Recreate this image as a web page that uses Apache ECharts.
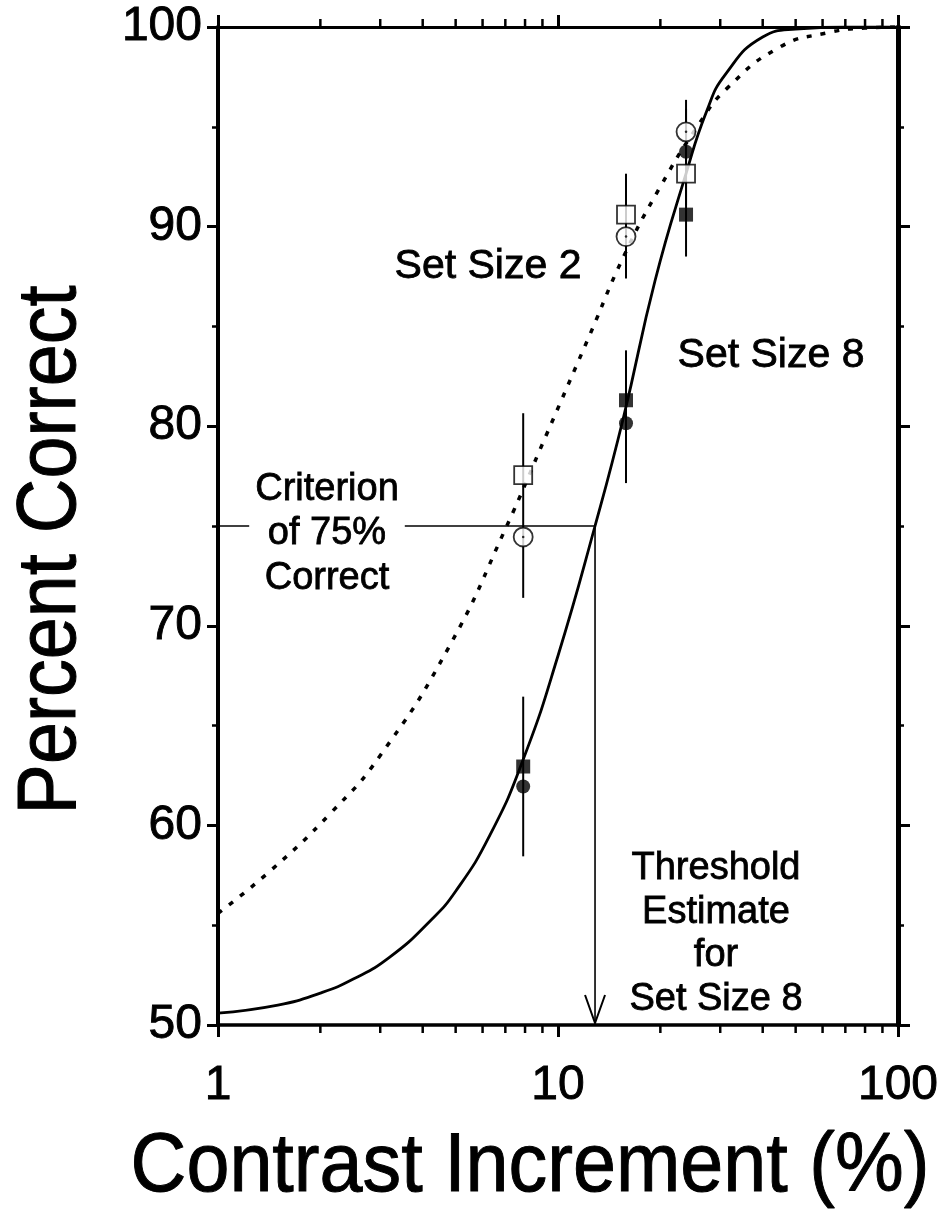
<!DOCTYPE html>
<html>
<head>
<meta charset="utf-8">
<script src="https://cdn.jsdelivr.net/npm/echarts@6/dist/echarts.min.js"></script>
<style>
html,body{margin:0;padding:0;background:#fff;}
#chart{width:944px;height:1228px;}
</style>
</head>
<body>
<div id="chart"></div>
<script>
// Contrast increments (%) at which performance was measured
const contrastLevels = [7.9, 15.85, 23.8];

// Percent correct: set size 2 (open symbols), set size 8 (filled symbols)
const size2Squares = [77.55, 90.6, 92.65];
const size2Circles = [74.45, 89.5, 94.75];
const size8Squares = [62.95, 81.3, 90.6];
const size8Circles = [61.95, 80.15, 93.75];

// Error bar extents [low, high] at each contrast level
const size2Bars = [[71.4, 80.65], [87.4, 92.65], [91.05, 96.35]];
const size8Bars = [[58.45, 66.45], [77.15, 83.8], [88.5, 95.9]];

// Fitted psychometric functions
const fitContrast2 = [1, 1.42, 2.14, 3.0, 4.8, 6.98, 9.26, 12.42, 15.6, 20, 25.9, 31.3, 45, 61.7, 80, 100];
const fitPercent2  = [55.6, 57.7, 60.6, 63.5, 69.0, 74.8, 79.6, 84.6, 88.5, 92.0, 95.1, 96.9, 99.0, 99.7, 99.95, 100];
const fitContrast8 = [1, 1.5, 2, 2.5, 3.2, 4.2, 5, 6.3, 7.9, 10, 12.85, 15.56, 19.3, 23.75, 27.4, 31, 40, 50, 70, 100];
const fitPercent8  = [50.6, 51.0, 51.6, 52.3, 53.4, 55.2, 56.7, 59.5, 63.3, 68.5, 75.0, 80.4, 87.3, 92.6, 95.8, 97.6, 99.5, 99.9, 100, 100];

// Criterion and the resulting threshold for set size 8
const criterionPercent = 75;
const thresholdContrast = 12.85;

// Axis ranges and log minor tick positions
const xMin = 1, xMax = 100;
const yMin = 50, yMax = 100, yStep = 10;
const xMinorTicks = [2, 3, 4, 5, 6, 7, 8, 9, 20, 30, 40, 50, 60, 70, 80, 90];

const FONT = "'Liberation Sans', Arial, Helvetica, sans-serif";
const zip = (xs, ys) => xs.map((x, i) => [x, ys[i]]);

const chart = echarts.init(document.getElementById('chart'), null, { renderer: 'canvas' });

const xAxisBase = {
  type: 'log', logBase: 10, min: xMin, max: xMax,
  splitLine: { show: false },
  axisTick: { show: true, inside: false, length: 12, lineStyle: { color: '#000', width: 3 } },
  minorTick: { show: false }
};
const yAxisBase = {
  type: 'value', min: yMin, max: yMax, interval: yStep,
  splitLine: { show: false },
  axisTick: { show: true, inside: false, length: 11, lineStyle: { color: '#000', width: 3 } },
  minorTick: { show: true, splitNumber: 2, length: 6, lineStyle: { color: '#000', width: 2.5 } }
};
const tickLabel = {
  show: true, color: '#000', fontSize: 48, fontFamily: FONT,
  textBorderColor: '#000', textBorderWidth: 0.9
};

const barSeries = (bars) => ({
  type: 'custom', z: 3,
  data: contrastLevels.map((c, i) => [c, bars[i][0], bars[i][1]]),
  encode: { x: 0, y: [1, 2] },
  renderItem: (params, api) => {
    const a = api.coord([api.value(0), api.value(1)]);
    const b = api.coord([api.value(0), api.value(2)]);
    return { type: 'line', shape: { x1: a[0], y1: a[1], x2: b[0], y2: b[1] },
             style: { stroke: '#000', lineWidth: 2 } };
  }
});

const textStyle = (text, size, extra) => Object.assign({
  text: text, font: size + 'px ' + FONT, fill: '#000', stroke: '#000', lineWidth: 0.8,
  align: 'center', verticalAlign: 'middle'
}, extra || {});

chart.setOption({
  animation: false,
  backgroundColor: '#fff',
  grid: { left: 218, right: 46, top: 27, bottom: 203, containLabel: false },
  xAxis: [
    Object.assign({}, xAxisBase, {
      position: 'bottom',
      axisLine: { show: true, lineStyle: { color: '#000', width: 3.5 } },
      axisLabel: Object.assign({}, tickLabel, { margin: 37 })
    }),
    Object.assign({}, xAxisBase, {
      position: 'top',
      axisLine: { show: true, lineStyle: { color: '#000', width: 3 } },
      axisLabel: { show: false }
    })
  ],
  yAxis: [
    Object.assign({}, yAxisBase, {
      position: 'left',
      axisLine: { show: true, lineStyle: { color: '#000', width: 4 } },
      axisLabel: Object.assign({}, tickLabel, { margin: 16 })
    }),
    Object.assign({}, yAxisBase, {
      position: 'right',
      axisTick: { show: true, inside: false, length: 12, lineStyle: { color: '#000', width: 3 } },
      axisLine: { show: true, lineStyle: { color: '#000', width: 5 } },
      axisLabel: { show: false }
    })
  ],
  series: [
    // Set size 2 fit (dotted)
    {
      type: 'line', z: 2, data: zip(fitContrast2, fitPercent2),
      smooth: 0.5, showSymbol: false, symbol: 'none',
      lineStyle: { color: '#000', width: 3.5, type: [5, 9], cap: 'butt' }
    },
    // Set size 8 fit (solid)
    {
      type: 'line', z: 2, data: zip(fitContrast8, fitPercent8),
      smooth: 0.5, showSymbol: false, symbol: 'none',
      lineStyle: { color: '#000', width: 2.8 }
    },
    barSeries(size2Bars),
    barSeries(size8Bars),
    // Criterion line and threshold arrow
    {
      type: 'custom', z: 2,
      data: [[thresholdContrast, criterionPercent]],
      encode: { x: 0, y: 1 },
      renderItem: (params, api) => {
        const thr = api.value(0), crit = api.value(1);
        const left = api.coord([xMin, crit]);
        const corner = api.coord([thr, crit]);
        const tip = api.coord([thr, yMin]);
        const s = { stroke: '#000', lineWidth: 1.6, fill: null };
        return { type: 'group', children: [
          { type: 'line', shape: { x1: left[0], y1: left[1], x2: corner[0], y2: corner[1] }, style: s },
          { type: 'line', shape: { x1: corner[0], y1: corner[1], x2: tip[0], y2: tip[1] - 2 }, style: s },
          { type: 'polyline', shape: { points: [[tip[0] - 10, tip[1] - 30], [tip[0], tip[1] - 2], [tip[0] + 10, tip[1] - 30]] },
            style: { stroke: '#000', lineWidth: 2, fill: null } }
        ] };
      }
    },
    // Log minor ticks on top and bottom axes
    {
      type: 'custom', z: 5, clip: false, silent: true,
      data: xMinorTicks.map(v => [v, yMin]),
      encode: { x: 0, y: 1 },
      renderItem: (params, api) => {
        const b = api.coord([api.value(0), yMin]);
        const t = api.coord([api.value(0), yMax]);
        const s = { stroke: '#000', lineWidth: 2.5 };
        return { type: 'group', children: [
          { type: 'line', shape: { x1: b[0], y1: b[1], x2: b[0], y2: b[1] + 8 }, style: s },
          { type: 'line', shape: { x1: t[0], y1: t[1], x2: t[0], y2: t[1] - 8 }, style: s }
        ] };
      }
    },
    // Set size 8 markers (filled)
    {
      type: 'scatter', z: 4, data: zip(contrastLevels, size8Circles),
      symbol: 'circle', symbolSize: 14, itemStyle: { color: '#000' }
    },
    {
      type: 'scatter', z: 4, data: zip(contrastLevels, size8Squares),
      symbol: 'rect', symbolSize: 14, itemStyle: { color: '#000' }
    },
    // Set size 2 markers (open)
    {
      type: 'scatter', z: 6, data: zip(contrastLevels, size2Circles),
      symbol: 'circle', symbolSize: 19,
      itemStyle: { color: '#fff', borderColor: '#000', borderWidth: 1.8 }
    },
    {
      type: 'scatter', z: 7, data: zip(contrastLevels, size2Circles),
      symbol: 'circle', symbolSize: 2.5, itemStyle: { color: '#000' }
    },
    {
      type: 'scatter', z: 6, data: zip(contrastLevels, size2Squares),
      symbol: 'rect', symbolSize: 18,
      itemStyle: { color: '#fff', borderColor: '#000', borderWidth: 1.8 }
    }
  ],
  graphic: [
    { type: 'text', z: 100, x: 52, y: 550, rotation: Math.PI / 2, scaleX: 0.91,
      style: textStyle('Percent Correct', 83, { lineWidth: 1 }) },
    { type: 'text', z: 100, x: 530, y: 1168, scaleX: 0.92,
      style: textStyle('Contrast Increment (%)', 84, { lineWidth: 1 }) },
    { type: 'text', z: 100, x: 488, y: 267, style: textStyle('Set Size 2', 41) },
    { type: 'text', z: 100, x: 771, y: 356, style: textStyle('Set Size 8', 41) },
    { type: 'text', z: 100, x: 327, y: 534,
      style: textStyle('Criterion\nof 75%\nCorrect', 38, { lineHeight: 44.5, backgroundColor: '#fff', padding: [0, 6] }) },
    { type: 'text', z: 100, x: 716, y: 934,
      style: textStyle('Threshold\nEstimate\nfor\nSet Size 8', 38, { lineHeight: 43.5 }) }
  ]
});
</script>
</body>
</html>
